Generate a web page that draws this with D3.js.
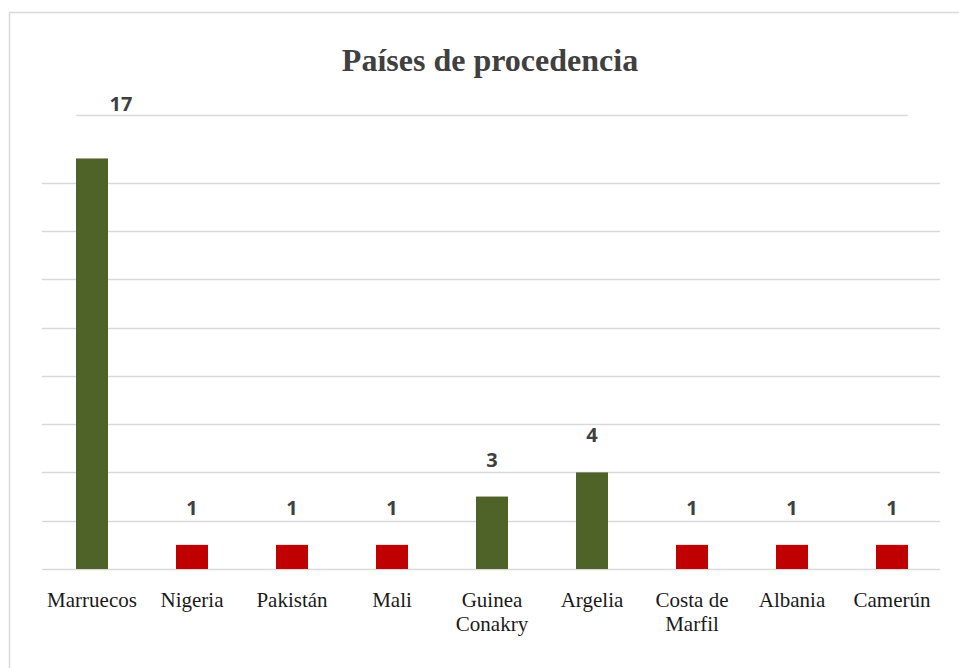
<!DOCTYPE html>
<html>
<head>
<meta charset="utf-8">
<script src="https://cdn.jsdelivr.net/npm/d3@7"></script>
<style>
  body { margin: 0; background: #fff; }
</style>
</head>
<body>
<div id="bar"></div>
<script>
const CATEGORIES = ["Marruecos", "Nigeria", "Pakistán", "Mali", "Guinea Conakry", "Argelia", "Costa de Marfil", "Albania", "Camerún"];
const VALUES = [17, 1, 1, 1, 3, 4, 1, 1, 1];
const GROUPS = ["top", "rest", "rest", "rest", "top", "top", "rest", "rest", "rest"];
const GRID_TICKS = [0, 2, 4, 6, 8, 10, 12, 14, 16];
const Y_MAX = 18.8;
const TITLE = "Países de procedencia";

const WIDTH = 959;
const HEIGHT = 668;
const LEFT = 42;
const RIGHT = 942;
const BASE = 569;
const TOP = 115;

const COLORS = { top: "#4f6228", rest: "#c00000" };
// the "17" label sits off its bar in the original
const LABEL_NUDGE = { "Marruecos": [29, -17] };

const data = CATEGORIES.map((c, i) => ({ name: c, value: VALUES[i], group: GROUPS[i] }));

const x = d3.scaleBand()
    .domain(CATEGORIES)
    .range([LEFT, RIGHT])
    .paddingInner(0.68)
    .paddingOuter(0.34);

const y = d3.scaleLinear()
    .domain([0, Y_MAX])
    .range([BASE, TOP]);

const svg = d3.select("#bar").append("svg")
    .attr("width", WIDTH)
    .attr("height", HEIGHT);

// chart frame
svg.append("rect")
    .attr("x", 9.5)
    .attr("y", 12.5)
    .attr("width", WIDTH)
    .attr("height", HEIGHT)
    .attr("fill", "none")
    .attr("stroke", "#d9d9d9")
    .attr("stroke-width", 1.5);

svg.append("text")
    .text(TITLE)
    .attr("x", 490)
    .attr("y", 71)
    .attr("text-anchor", "middle")
    .attr("font-family", "'Liberation Serif', 'Times New Roman', serif")
    .attr("font-weight", "bold")
    .attr("font-size", 32)
    .attr("fill", "#404040");

// gridlines
svg.append("g")
  .selectAll("line")
  .data(GRID_TICKS)
  .enter().append("line")
    .attr("x1", LEFT)
    .attr("x2", 940)
    .attr("y1", d => Math.round(y(d)) + 0.5)
    .attr("y2", d => Math.round(y(d)) + 0.5)
    .attr("stroke", "#d9d9d9")
    .attr("stroke-width", 1.5);

// short top line, spans the bars only
svg.append("line")
    .attr("x1", x(CATEGORIES[0]))
    .attr("x2", x(CATEGORIES[CATEGORIES.length - 1]) + x.bandwidth())
    .attr("y1", Math.round(y(Y_MAX)) + 0.5)
    .attr("y2", Math.round(y(Y_MAX)) + 0.5)
    .attr("stroke", "#d9d9d9")
    .attr("stroke-width", 1.5);

svg.append("g")
  .selectAll("rect")
  .data(data)
  .enter().append("rect")
    .attr("x", d => x(d.name))
    .attr("y", d => y(d.value))
    .attr("width", x.bandwidth())
    .attr("height", d => y(0) - y(d.value))
    .attr("fill", d => COLORS[d.group]);

// value labels
svg.append("g")
  .selectAll("text")
  .data(data)
  .enter().append("text")
    .text(d => d.value)
    .attr("x", d => x(d.name) + x.bandwidth() / 2 + (LABEL_NUDGE[d.name] ? LABEL_NUDGE[d.name][0] : 0))
    .attr("y", d => y(d.value) - 30 + (LABEL_NUDGE[d.name] ? LABEL_NUDGE[d.name][1] : 0))
    .attr("text-anchor", "middle")
    .attr("font-family", "'Open Sans', 'Liberation Sans', sans-serif")
    .attr("font-weight", "bold")
    .attr("font-size", 20)
    .attr("fill", "#404040");

// category axis, wrapped like the original
const WRAP = { "Guinea Conakry": ["Guinea", "Conakry"], "Costa de Marfil": ["Costa de", "Marfil"] };

const axis = svg.append("g")
  .selectAll("text")
  .data(CATEGORIES)
  .enter().append("text")
    .attr("x", d => x(d) + x.bandwidth() / 2)
    .attr("y", 607)
    .attr("text-anchor", "middle")
    .attr("font-family", "'Liberation Serif', 'Times New Roman', serif")
    .attr("font-size", 21)
    .attr("fill", "#1a1a1a");

axis.selectAll("tspan")
  .data(d => WRAP[d] || [d])
  .enter().append("tspan")
    .attr("x", function() { return this.parentNode.getAttribute("x"); })
    .attr("dy", (d, i) => i ? 24 : 0)
    .text(d => d);
</script>
</body>
</html>
